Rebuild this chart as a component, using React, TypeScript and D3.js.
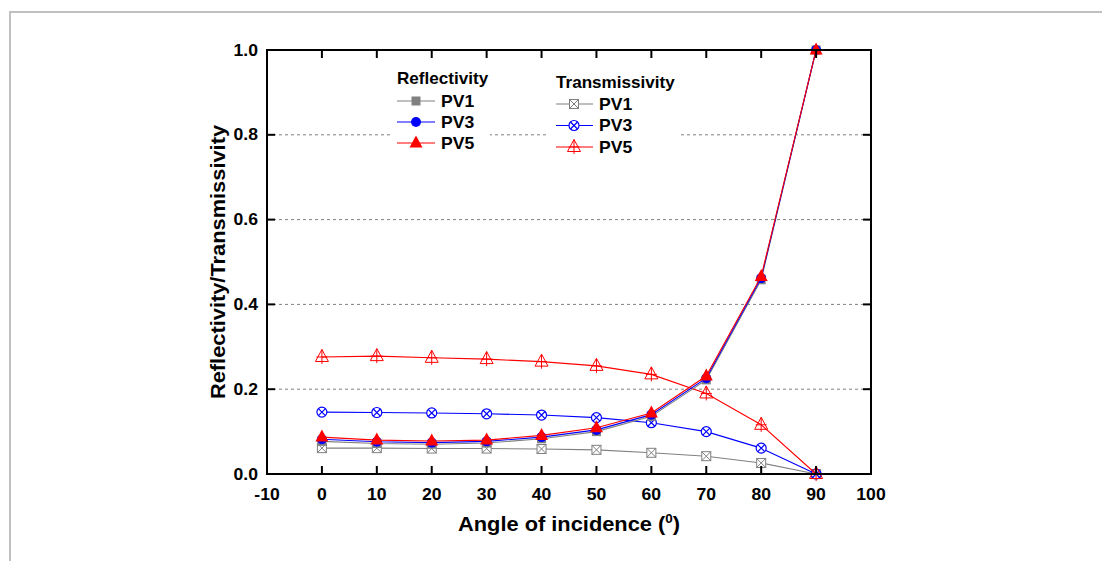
import React from "react";
import * as d3 from "d3";

// Angle of incidence (degrees)
const angles = [0, 10, 20, 30, 40, 50, 60, 70, 80, 90];

// Reflectivity series
const reflPV1 = [0.077, 0.072, 0.070, 0.073, 0.083, 0.100, 0.136, 0.222, 0.458, 1.0];
const reflPV3 = [0.082, 0.076, 0.074, 0.077, 0.087, 0.104, 0.140, 0.226, 0.462, 1.0];
const reflPV5 = [0.087, 0.080, 0.078, 0.080, 0.091, 0.109, 0.144, 0.231, 0.466, 1.0];

// Transmissivity series
const transPV1 = [0.061, 0.061, 0.060, 0.060, 0.059, 0.057, 0.050, 0.042, 0.026, 0.0];
const transPV3 = [0.146, 0.145, 0.144, 0.142, 0.139, 0.133, 0.121, 0.100, 0.061, 0.0];
const transPV5 = [0.276, 0.278, 0.274, 0.271, 0.265, 0.255, 0.235, 0.190, 0.116, 0.0];

const xTicks = [-10, 0, 10, 20, 30, 40, 50, 60, 70, 80, 90, 100];
const yTicks = [0, 0.2, 0.4, 0.6, 0.8, 1.0];
const gridTicks = [0.2, 0.4, 0.6, 0.8];

const GRAY = "#808080";
const BLUE = "#0000ff";
const RED = "#ff0000";
const FONT = "'Liberation Sans', Arial, sans-serif";

type MarkerKind =
  | "squareFilled"
  | "circleFilled"
  | "triangleFilled"
  | "squareX"
  | "circleX"
  | "trianglePlus";

function Marker({ kind, x, y, color }: { kind: MarkerKind; x: number; y: number; color: string }) {
  switch (kind) {
    case "squareFilled":
      return <rect x={x - 4.5} y={y - 4.5} width={9} height={9} fill={color} />;
    case "circleFilled":
      return <circle cx={x} cy={y} r={5} fill={color} />;
    case "triangleFilled":
      return <path d={`M${x},${y - 7.5}L${x + 6.5},${y + 4.5}L${x - 6.5},${y + 4.5}Z`} fill={color} />;
    case "squareX":
      return (
        <g stroke={color} strokeWidth={1} fill="white">
          <rect x={x - 4.5} y={y - 4.5} width={9} height={9} />
          <path d={`M${x - 4.5},${y - 4.5}L${x + 4.5},${y + 4.5}M${x + 4.5},${y - 4.5}L${x - 4.5},${y + 4.5}`} />
        </g>
      );
    case "circleX": {
      const r = 5;
      const k = r * Math.SQRT1_2;
      return (
        <g stroke={color} strokeWidth={1.2} fill="white">
          <circle cx={x} cy={y} r={r} />
          <path d={`M${x - k},${y - k}L${x + k},${y + k}M${x + k},${y - k}L${x - k},${y + k}`} />
        </g>
      );
    }
    case "trianglePlus":
      return (
        <g stroke={color} strokeWidth={1} fill="none">
          <path d={`M${x},${y - 7.5}L${x + 6.5},${y + 4.5}L${x - 6.5},${y + 4.5}Z`} />
          <path d={`M${x},${y - 7.5}L${x},${y + 7}M${x - 5.5},${y}L${x + 5.5},${y}`} />
        </g>
      );
  }
  return null;
}

// Bold text slightly widened horizontally
function SText({
  x,
  y,
  size,
  anchor = "start",
  sx = 1.1,
  rotate = 0,
  dy,
  children,
}: {
  x: number;
  y: number;
  size: number;
  anchor?: "start" | "middle" | "end";
  sx?: number;
  rotate?: number;
  dy?: string;
  children: React.ReactNode;
}) {
  return (
    <text
      transform={`translate(${x},${y}) rotate(${rotate}) scale(${sx},1)`}
      textAnchor={anchor}
      fontSize={size}
      fontWeight="bold"
      dy={dy}
    >
      {children}
    </text>
  );
}

interface Series {
  name: string;
  values: number[];
  color: string;
  marker: MarkerKind;
}

const transSeries: Series[] = [
  { name: "PV1", values: transPV1, color: GRAY, marker: "squareX" },
  { name: "PV3", values: transPV3, color: BLUE, marker: "circleX" },
  { name: "PV5", values: transPV5, color: RED, marker: "trianglePlus" },
];

const reflSeries: Series[] = [
  { name: "PV1", values: reflPV1, color: GRAY, marker: "squareFilled" },
  { name: "PV3", values: reflPV3, color: BLUE, marker: "circleFilled" },
  { name: "PV5", values: reflPV5, color: RED, marker: "triangleFilled" },
];

export default function App() {
  const W = 1102;
  const H = 561;
  const left = 267;
  const right = 871;
  const top = 50;
  const bottom = 474;

  const x = d3.scaleLinear().domain([-10, 100]).range([left, right]);
  const y = d3.scaleLinear().domain([0, 1]).range([bottom, top]);
  const line = d3
    .line<number>()
    .x((_, i) => x(angles[i]))
    .y((v) => y(v));

  const renderSeries = (s: Series) => (
    <g key={s.name + s.marker}>
      <path d={line(s.values) || ""} fill="none" stroke={s.color} strokeWidth={1.1} />
      {s.values.map((v, i) => (
        <Marker key={i} kind={s.marker} x={x(angles[i])} y={y(v)} color={s.color} />
      ))}
    </g>
  );

  const tickLen = 8;

  return (
    <svg
      width={W}
      height={H}
      style={{ position: "absolute", left: 0, top: 0, background: "white" }}
      fontFamily={FONT}
    >
      {/* outer frame */}
      <rect x={10} y={12} width={W + 20} height={H + 20} fill="none" stroke="#c0c0c0" strokeWidth={2} />

      {/* grid */}
      {gridTicks.map((t) => (
        <line
          key={t}
          x1={left}
          x2={right}
          y1={y(t)}
          y2={y(t)}
          stroke="#808080"
          strokeWidth={1}
          strokeDasharray="3,3"
        />
      ))}

      {/* legend backgrounds */}
      <rect x={392} y={64} width={98} height={90} fill="white" />
      <rect x={548} y={68} width={132} height={92} fill="white" />

      {/* data */}
      {transSeries.map(renderSeries)}
      {reflSeries.map(renderSeries)}

      {/* frame of plot */}
      <rect x={left} y={top} width={right - left} height={bottom - top} fill="none" stroke="black" strokeWidth={2} />

      {/* x ticks */}
      {xTicks.map((t) => (
        <g key={t}>
          <line x1={x(t)} x2={x(t)} y1={bottom} y2={bottom - tickLen} stroke="black" strokeWidth={2} />
          <line x1={x(t)} x2={x(t)} y1={top} y2={top + tickLen} stroke="black" strokeWidth={2} />
          <SText x={x(t)} y={bottom + 26} size={16} anchor="middle">
            {t}
          </SText>
        </g>
      ))}

      {/* y ticks */}
      {yTicks.map((t) => (
        <g key={t}>
          <line x1={left} x2={left + tickLen} y1={y(t)} y2={y(t)} stroke="black" strokeWidth={2} />
          <line x1={right} x2={right - tickLen} y1={y(t)} y2={y(t)} stroke="black" strokeWidth={2} />
          <SText x={left - 9} y={y(t)} size={16} anchor="end" dy="0.35em">
            {t.toFixed(1)}
          </SText>
        </g>
      ))}

      {/* axis titles */}
      <SText x={569} y={531} size={19.5} anchor="middle" sx={1.12}>
        Angle of incidence (<tspan dy={-8} fontSize={12}>0</tspan>
        <tspan dy={8}>)</tspan>
      </SText>
      <SText x={225} y={(top + bottom) / 2} size={19.5} anchor="middle" rotate={-90} sx={1.12}>
        Reflectivity/Transmissivity
      </SText>

      {/* legend: reflectivity */}
      <SText x={397} y={84} size={16} sx={1.07}>Reflectivity</SText>
      {reflSeries.map((s, i) => {
        const ly = 101 + i * 21;
        return (
          <g key={"lr" + s.name}>
            <line x1={397} x2={435} y1={ly} y2={ly} stroke={s.color} strokeWidth={1.1} />
            <Marker kind={s.marker} x={416} y={ly} color={s.color} />
            <SText x={441} y={ly} size={16} dy="0.35em">{s.name}</SText>
          </g>
        );
      })}

      {/* legend: transmissivity */}
      <SText x={556} y={88} size={16} sx={1.07}>Transmissivity</SText>
      {transSeries.map((s, i) => {
        const ly = 104 + i * 21.5;
        return (
          <g key={"lt" + s.name}>
            <line x1={556} x2={593} y1={ly} y2={ly} stroke={s.color} strokeWidth={1.1} />
            <Marker kind={s.marker} x={574} y={ly} color={s.color} />
            <SText x={599} y={ly} size={16} dy="0.35em">{s.name}</SText>
          </g>
        );
      })}
    </svg>
  );
}
